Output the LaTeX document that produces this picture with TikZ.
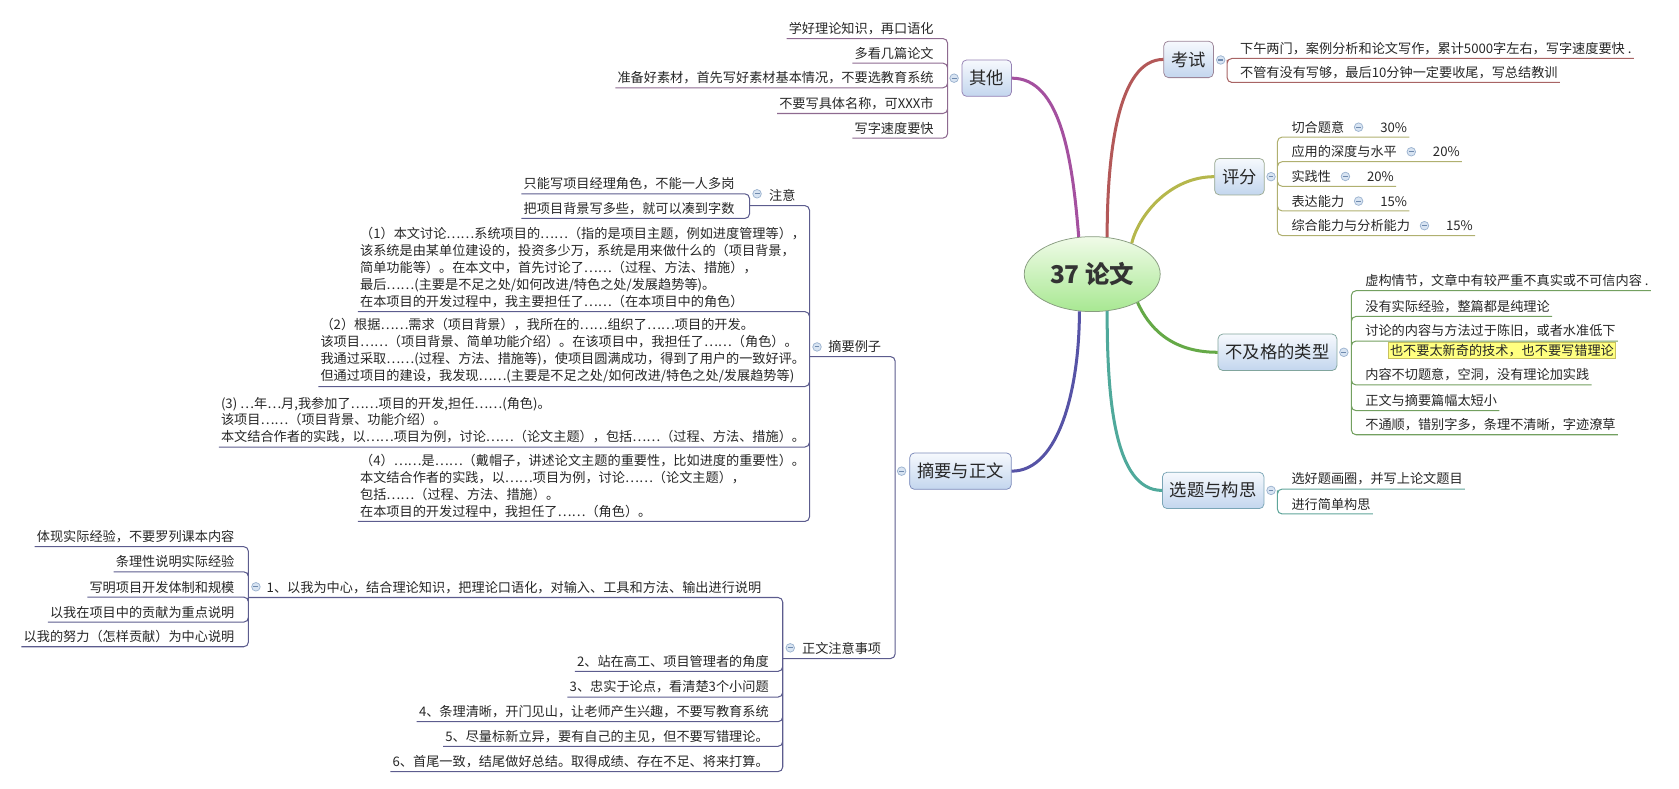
\documentclass[tikz,border=0pt]{standalone}
\usepackage{fontspec}
\setmainfont{Noto Sans CJK SC}
\usetikzlibrary{shapes.geometric, positioning, calc}

\definecolor{cqita}{HTML}{A4509F}
\definecolor{ckaoshi}{HTML}{B35858}
\definecolor{cpingfen}{HTML}{B5B74C}
\definecolor{cbujige}{HTML}{65A947}
\definecolor{cxuanti}{HTML}{4FA99B}
\definecolor{czhaiyao}{HTML}{5653A6}
\definecolor{lqita}{HTML}{8E6A90}
\definecolor{lkaoshi}{HTML}{A86464}
\definecolor{lpingfen}{HTML}{B0B070}
\definecolor{lbujige}{HTML}{73A060}
\definecolor{lxuanti}{HTML}{5FA59A}
\definecolor{lzhaiyao}{HTML}{5C5C8E}
\definecolor{boxtop}{HTML}{F6F9FD}
\definecolor{boxbot}{HTML}{C3D6EE}
\definecolor{boxline}{HTML}{8DA3C2}
\definecolor{roottop}{HTML}{F0FBE8}
\definecolor{rootbot}{HTML}{A8E892}
\definecolor{rootline}{HTML}{889C80}
\definecolor{foldfill}{HTML}{D8E4F2}
\definecolor{folddraw}{HTML}{9DB4D0}
\definecolor{foldminus}{HTML}{6F8AAE}
\definecolor{hlfill}{HTML}{FFFF80}
\definecolor{hlline}{HTML}{C8C060}

\begin{document}
\begin{tikzpicture}[
        x=0.02cm, y=-0.02cm,
        root/.style={ellipse, draw=rootline, top color=roottop, bottom color=rootbot, minimum width=2.54cm, minimum height=1.4cm, inner sep=0pt, font=\fontsize{13}{15}\selectfont\bfseries, text=black!80},
        topic/.style={draw=#1, rounded corners=2.5pt, top color=boxtop, bottom color=boxbot, minimum height=0.68cm, inner xsep=0.14cm, inner ysep=0pt, font=\fontsize{9.2}{11}\selectfont, text=black!85},
        leaf/.style={inner xsep=1pt, inner ysep=1.8pt, font=\fontsize{7}{9}\selectfont, text=black!85},
        leafR/.style={leaf, anchor=south west},
        leafL/.style={leaf, anchor=south east},
        block/.style={leafL, align=left},
        fold/.style={circle, draw=folddraw, fill=foldfill, minimum size=0.16cm, inner sep=0pt, line width=0.4pt,
            path picture={\draw[foldminus, line width=0.6pt] ([xshift=-1.3pt]path picture bounding box.center) -- ([xshift=1.3pt]path picture bounding box.center);}},
        branch/.style={draw=#1, line width=1.6pt},
        uline/.style={draw=#1, line width=0.55pt, rounded corners=2.5pt}
    ]
    \useasboundingbox (0,0) rectangle (1568,736);

    \node[root] (root) at (1020,256) {37 论文};
    \node[topic=cqita!40!boxline] (qita) at (921.5,73) {其他};
    \node[topic=ckaoshi!40!boxline] (kaoshi) at (1110,55.5) {考试};
    \node[topic=cpingfen!40!boxline] (pingfen) at (1157.5,165) {评分};
    \node[topic=cbujige!30!boxline] (bujige) at (1193,329) {不及格的类型};
    \node[topic=cxuanti!30!boxline] (xuanti) at (1133,458) {选题与构思};
    \node[topic=czhaiyao!30!boxline] (zhaiyao) at (897,440) {摘要与正文};

    \draw[branch=cqita] (qita.east) .. controls +(45,0) and +(-6,-75) .. (root.110);
    \draw[branch=ckaoshi] (kaoshi.west) .. controls +(-42,0) and +(0,-80) .. (root.68);
    \draw[branch=cpingfen] (pingfen.west) .. controls +(-40,0) and +(7,-28) .. (root.38);
    \draw[branch=cbujige] (bujige.west) .. controls +(-45,0) and +(10,22) .. (root.-32);
    \draw[branch=cxuanti] (xuanti.west) .. controls +(-45,0) and +(0,80) .. (root.-68);
    \draw[branch=czhaiyao] (zhaiyao.east) .. controls +(45,0) and +(0,70) .. (root.-109);

    % 其他
    \node[fold] (fqita) at (891,73) {};
    \coordinate (bqita) at (885,73);
    \node[leafL] (q1) at (874,36) {学好理论知识，再口语化};
    \node[leafL] (q2) at (874,59) {多看几篇论文};
    \node[leafL] (q3) at (874,82) {准备好素材，首先写好素材基本情况，不要选教育系统};
    \node[leafL] (q4) at (874,106) {不要写具体名称，可XXX市};
    \node[leafL] (q5) at (874,129) {写字速度要快};
    \draw[uline=lqita] (bqita) |- (q1.south west) (bqita) |- (q2.south west) (bqita) |- (q3.south west)
        (bqita) |- (q4.south west) (bqita) |- (q5.south west);

    % 考试
    \node[fold] (fkaoshi) at (1140,56) {};
    \coordinate (bkaoshi) at (1146,56);
    \node[leafR] (k1) at (1156,54.6) {下午两门，案例分析和论文写作，累计5000字左右，写字速度要快 .};
    \node[leafR] (k2) at (1156,77) {不管有没有写够，最后10分钟一定要收尾，写总结教训};
    \draw[uline=lkaoshi] (bkaoshi) |- (k1.south east) (bkaoshi) |- (k2.south east);

    % 评分
    \node[fold] (fpingfen) at (1187,165) {};
    \coordinate (bpingfen) at (1193,165);
    \node[leafR] (p1) at (1204,128) {切合题意};
    \node[fold, right=0.14cm of p1] (pf1) {};
    \node[leaf, base right=0.59cm of p1] (pv1) {30\%};
    \node[leafR] (p2) at (1204,151) {应用的深度与水平};
    \node[fold, right=0.14cm of p2] (pf2) {};
    \node[leaf, base right=0.59cm of p2] (pv2) {20\%};
    \node[leafR] (p3) at (1204,174) {实践性};
    \node[fold, right=0.14cm of p3] (pf3) {};
    \node[leaf, base right=0.59cm of p3] (pv3) {20\%};
    \node[leafR] (p4) at (1204,197) {表达能力};
    \node[fold, right=0.14cm of p4] (pf4) {};
    \node[leaf, base right=0.59cm of p4] (pv4) {15\%};
    \node[leafR] (p5) at (1204,220) {综合能力与分析能力};
    \node[fold, right=0.14cm of p5] (pf5) {};
    \node[leaf, base right=0.59cm of p5] (pv5) {15\%};
    \draw[uline=lpingfen] (bpingfen) |- (p1.south -| pv1.east) (bpingfen) |- (p2.south -| pv2.east)
        (bpingfen) |- (p3.south -| pv3.east) (bpingfen) |- (p4.south -| pv4.east) (bpingfen) |- (p5.south -| pv5.east);

    % 不及格的类型
    \node[fold] (fbujige) at (1255,329) {};
    \coordinate (bbujige) at (1262,329);
    \node[leafR] (b1) at (1273,271.5) {虚构情节，文章中有较严重不真实或不可信内容 .};
    \node[leafR] (b2) at (1273,295.5) {没有实际经验，整篇都是纯理论};
    \node[leafR] (b3) at (1273,318.5) {讨论的内容与方法过于陈旧，或者水准低下};
    \node[leaf, anchor=north west, inner ysep=1pt, fill=hlfill, draw=hlline, line width=0.4pt] (hl) at (1296,319.5) {也不要太新奇的技术，也不要写错理论};
    \node[leafR] (b4) at (1273,359.5) {内容不切题意，空洞，没有理论加实践};
    \node[leafR] (b5) at (1273,383.5) {正文与摘要篇幅太短小};
    \node[leafR] (b6) at (1273,406) {不通顺，错别字多，条理不清晰，字迹潦草};
    \draw[uline=lbujige] (bbujige) |- (b1.south east) (bbujige) |- (b2.south east) (bbujige) |- (b3.south east)
        (bbujige) |- (b4.south east) (bbujige) |- (b5.south east) (bbujige) |- (b6.south east);

    % 选题与构思
    \node[fold] (fxuanti) at (1187,458) {};
    \coordinate (bxuanti) at (1193,458);
    \node[leafR] (x1) at (1204,456.7) {选好题画圈，并写上论文题目};
    \node[leafR] (x2) at (1204,480) {进行简单构思};
    \draw[uline=lxuanti] (bxuanti) |- (x1.south east) (bxuanti) |- (x2.south east);

    % 摘要与正文
    \node[fold] (fzhaiyao) at (842,440) {};
    \coordinate (bzhaiyao) at (836,440);
    \node[leafL] (li) at (825,333) {摘要例子};
    \node[fold] (fli) at (763,324) {};
    \coordinate (bli) at (756,333);
    \node[leafL] (zw) at (825,615) {正文注意事项};
    \node[fold] (fzw) at (738,605) {};
    \coordinate (bzw) at (731,615);
    \draw[uline=lzhaiyao] (bzhaiyao) |- (bli) (bzhaiyao) |- (bzw);

    \node[leafL] (zy) at (745,192) {注意};
    \node[fold] (fzy) at (707,181) {};
    \coordinate (bzy) at (700,192);
    \node[leafL] (z1) at (688,181) {只能写项目经理角色，不能一人多岗};
    \node[leafL] (z2) at (688,204) {把项目背景写多些，就可以凑到字数};
    \node[block] (e1) at (754,291) {（1）本文讨论……系统项目的……（指的是项目主题，例如进度管理等），\\
        该系统是由某单位建设的，投资多少万，系统是用来做什么的（项目背景，\\
        简单功能等）。在本文中，首先讨论了……（过程、方法、措施），\\
        最后……(主要是不足之处/如何改进/特色之处/发展趋势等)。\\
        在本项目的开发过程中，我主要担任了……（在本项目中的角色）};
    \node[block] (e2) at (754,361) {（2）根据……需求（项目背景），我所在的……组织了……项目的开发。\\
        该项目……（项目背景、简单功能介绍）。在该项目中，我担任了……（角色）。\\
        我通过采取……(过程、方法、措施等)，使项目圆满成功，得到了用户的一致好评。\\
        但通过项目的建设，我发现……(主要是不足之处/如何改进/特色之处/发展趋势等)};
    \node[block] (e3) at (754,417.5) {(3) …年…月,我参加了……项目的开发,担任……(角色)。\\
        该项目……（项目背景、功能介绍）。\\
        本文结合作者的实践，以……项目为例，讨论……（论文主题），包括……（过程、方法、措施）。};
    \node[block] (e4) at (754,487) {（4）……是……（戴帽子，讲述论文主题的重要性，比如进度的重要性）。\\
        本文结合作者的实践，以……项目为例，讨论……（论文主题），\\
        包括……（过程、方法、措施）。\\
        在本项目的开发过程中，我担任了……（角色）。};
    \draw[uline=lzhaiyao] (bli) |- (bzy) (bli) |- (e1.south west) (bli) |- (e2.south west)
        (bli) |- (e3.south west) (bli) |- (e4.south west);
    \draw[uline=lzhaiyao] (bzy) |- (z1.south west) (bzy) |- (z2.south west);

    \node[leafR] (n1) at (247,558) {1、以我为中心，结合理论知识，把理论口语化，对输入、工具和方法、输出进行说明};
    \node[fold] (fn1) at (239,548) {};
    \coordinate (bn1) at (232,558);
    \node[leafL] (n2) at (720,627) {2、站在高工、项目管理者的角度};
    \node[leafL] (n3) at (720,651) {3、忠实于论点，看清楚3个小问题};
    \node[leafL] (n4) at (720,674) {4、条理清晰，开门见山，让老师产生兴趣，不要写教育系统};
    \node[leafL] (n5) at (720,697) {5、尽量标新立异，要有自己的主见，但不要写错理论。};
    \node[leafL] (n6) at (720,720.6) {6、首尾一致，结尾做好总结。取得成绩、存在不足、将来打算。};
    \draw[uline=lzhaiyao] (bzw) |- (bn1) (bzw) |- (n2.south west) (bzw) |- (n3.south west)
        (bzw) |- (n4.south west) (bzw) |- (n5.south west) (bzw) |- (n6.south west);

    \node[leafL] (y1) at (221,510.5) {体现实际经验，不要罗列课本内容};
    \node[leafL] (y2) at (221,534) {条理性说明实际经验};
    \node[leafL] (y3) at (221,557.6) {写明项目开发体制和规模};
    \node[leafL] (y4) at (221,581) {以我在项目中的贡献为重点说明};
    \node[leafL] (y5) at (221,604) {以我的努力（怎样贡献）为中心说明};
    \draw[uline=lzhaiyao] (bn1) |- (y1.south west) (bn1) |- (y2.south west) (bn1) |- (y3.south west)
        (bn1) |- (y4.south west) (bn1) |- (y5.south west);
\end{tikzpicture}
\end{document}
